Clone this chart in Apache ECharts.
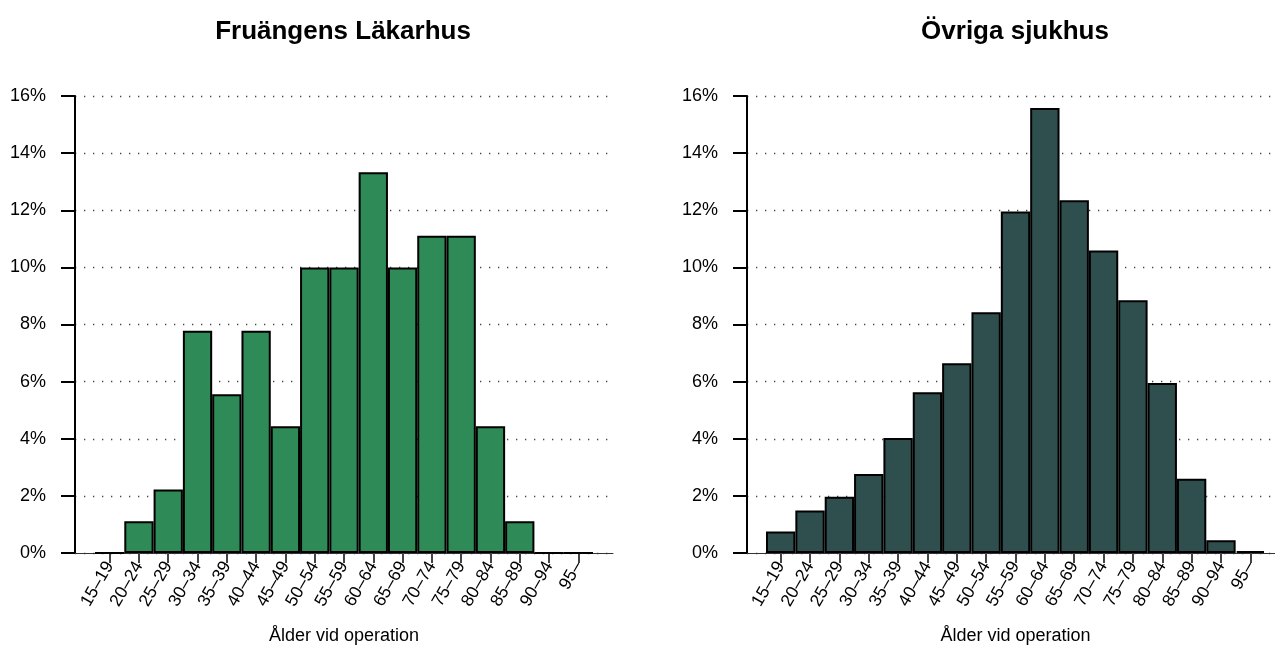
<!DOCTYPE html>
<html>
<head>
<meta charset="utf-8">
<script src="https://cdn.jsdelivr.net/npm/echarts@6/dist/echarts.min.js"></script>
<style>
html,body{margin:0;padding:0;background:#fff;}
#c{width:1275px;height:651px;}
</style>
</head>
<body>
<div id="c"></div>
<script>
var categories = ['15–19','20–24','25–29','30–34','35–39','40–44','45–49','50–54','55–59','60–64','65–69','70–74','75–79','80–84','85–89','90–94','95–'];
var fruangen = [0, 1.11, 2.22, 7.78, 5.56, 7.78, 4.44, 10, 10, 13.33, 10, 11.11, 11.11, 4.44, 1.11, 0, 0];
var ovriga = [0.75, 1.49, 1.97, 2.77, 4.03, 5.63, 6.64, 8.43, 11.96, 15.58, 12.35, 10.59, 8.85, 5.95, 2.6, 0.45, 0.07];
var yTicks = [0, 2, 4, 6, 8, 10, 12, 14, 16];
var titles = ['Fruängens Läkarhus', 'Övriga sjukhus'];
var xName = 'Ålder vid operation';

var FONT = 'Liberation Sans, Arial, Helvetica, sans-serif';
var chart = echarts.init(document.getElementById('c'), null, {renderer: 'canvas'});

var TOP = 96, BOTTOM = 98;
var panels = [
  {axisLeft: 75, gridRight: 662, barLeft: 95, barWidth: 498, color: '#2E8B57', data: fruangen, center: 338},
  {axisLeft: 747, gridRight: 0, barLeft: 766, barWidth: 499, color: '#2F4F4F', data: ovriga, center: 1010}
];

var grids = [], xAxes = [], yAxes = [], series = [], titleArr = [];
panels.forEach(function (p, i) {
  grids.push({left: p.axisLeft, right: p.gridRight, top: TOP, bottom: BOTTOM, containLabel: false});
  grids.push({left: p.barLeft, width: p.barWidth, top: TOP, bottom: BOTTOM, containLabel: false});
  var gb = i * 2, ga = i * 2 + 1;
  xAxes.push({
    gridIndex: gb, type: 'value', min: 0, max: 1,
    axisLine: {show: true, onZero: false, lineStyle: {color: '#333', width: 1}},
    axisTick: {show: false}, axisLabel: {show: false}, splitLine: {show: false}
  });
  yAxes.push({
    gridIndex: gb, type: 'value', min: 0, max: 16, interval: 2,
    axisLine: {show: true, onZero: false, lineStyle: {color: '#000', width: 2}},
    axisTick: {show: true, length: 14, lineStyle: {color: '#000', width: 2}},
    axisLabel: {margin: 29, fontSize: 18, color: '#000', fontFamily: FONT,
      formatter: function (v) { return yTicks.indexOf(v) >= 0 ? v + '%' : ''; }},
    splitLine: {show: true, lineStyle: {color: '#444', width: 1.3, type: [1.3, 7.7]}}
  });
  xAxes.push({
    gridIndex: ga, type: 'category', data: categories, boundaryGap: true,
    axisLine: {show: false},
    axisTick: {show: true, alignWithLabel: true, length: 10, lineStyle: {color: '#444', width: 2}},
    axisLabel: {rotate: 60, fontSize: 17.5, color: '#000', fontFamily: FONT, margin: 10, interval: 0},
    name: xName, nameLocation: 'middle', nameGap: 74,
    nameTextStyle: {fontSize: 18, color: '#000', fontFamily: FONT},
    splitLine: {show: false}
  });
  yAxes.push({gridIndex: ga, type: 'value', min: 0, max: 16, show: false});
  series.push({
    type: 'bar', xAxisIndex: xAxes.length - 1, yAxisIndex: yAxes.length - 1,
    data: p.data, barCategoryGap: '0%', barGap: '0%',
    itemStyle: {color: p.color, borderColor: '#000', borderWidth: 2},
    emphasis: {disabled: true}, animation: false, z: 3
  });
  titleArr.push({
    text: titles[i], left: p.center, top: 14, textAlign: 'center',
    textStyle: {fontSize: 26, fontWeight: 'bold', color: '#000', fontFamily: FONT}
  });
});

chart.setOption({
  animation: false,
  backgroundColor: '#fff',
  title: titleArr,
  grid: grids,
  xAxis: xAxes,
  yAxis: yAxes,
  series: series
});
</script>
</body>
</html>
